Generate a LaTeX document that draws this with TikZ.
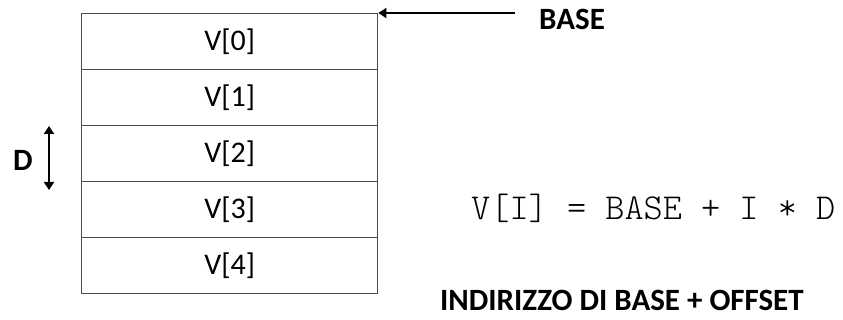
\documentclass[tikz,border=0pt]{standalone}
\usepackage{fontspec}
\setmainfont{Carlito}
\newfontfamily\monofont{Latin Modern Mono Light}
\usetikzlibrary{arrows.meta}
\begin{document}
\begin{tikzpicture}[x=1pt,y=-1pt,
  cell/.style={draw=black!70, line width=1.3pt, minimum width=296pt, minimum height=56pt, inner sep=0pt, anchor=north west, font=\fontsize{30}{33}\selectfont},
  lbl/.style={font=\fontsize{31}{34}\selectfont\bfseries, inner sep=0pt},
  tip/.tip={Triangle[length=8pt,width=10pt]},
  arr/.style={line width=1.8pt, -tip}
]
\useasboundingbox (0,0) rectangle (843,320);
\node[cell] (v0) at (81,13) {V[0]};
\node[cell] (v1) at (81,69) {V[1]};
\node[cell] (v2) at (81,125) {V[2]};
\node[cell] (v3) at (81,181) {V[3]};
\node[cell] (v4) at (81,237) {V[4]};
\node[lbl, anchor=west] (base) at (539,19) {BASE};
\coordinate (bs) at (515,13);
\draw[arr] (bs) -- (v0.north east);
\node[lbl] (d) at (23,160) {D};
\coordinate (dt) at (49,126);
\coordinate (db) at (49,190);
\draw[line width=1.8pt, tip-tip] (dt) -- (db);
\node[font=\monofont\fontsize{36.5}{40}\selectfont, inner sep=0pt, anchor=west] (f) at (471,208) {V[I] = BASE + I * D};
\node[lbl, anchor=west] (ind) at (440,300) {INDIRIZZO DI BASE + OFFSET};
\end{tikzpicture}
\end{document}
